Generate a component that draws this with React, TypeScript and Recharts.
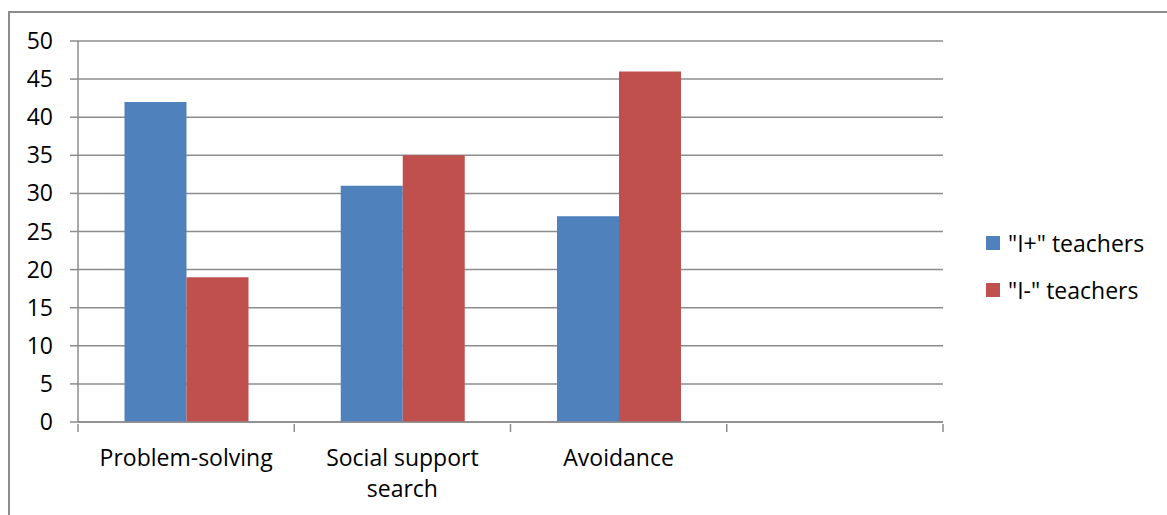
import { BarChart, Bar, XAxis, YAxis, CartesianGrid } from "recharts";

// Coping strategies by teacher group (percent)
const strategies = ["Problem-solving", "Social support\nsearch", "Avoidance", ""];
const iPlus = [42, 31, 27, null];
const iMinus = [19, 35, 46, null];
const yTicks = [0, 5, 10, 15, 20, 25, 30, 35, 40, 45, 50];

const SERIES = [
  { key: "iPlus", name: "\"I+\" teachers", color: "#4F81BD" },
  { key: "iMinus", name: "\"I-\" teachers", color: "#C0504D" },
];

const FONT = "'Open Sans', sans-serif";
const FONT_SIZE = 23;
const GRID = "#8c8c8c";

const W = 1167;
const H = 515;
const MARGIN = { top: 41, right: 224, left: 0, bottom: 33 };
const Y_AXIS_W = 78;
const PLOT_W = W - MARGIN.left - MARGIN.right - Y_AXIS_W;
const BAND = PLOT_W / strategies.length;

const data = strategies.map((s, i) => ({ name: s, iPlus: iPlus[i], iMinus: iMinus[i] }));

// category label plus tick marks on the band edges (Excel style)
function CategoryTick(props: any) {
  const { x, y, payload, index } = props;
  const top = y - 8;
  const last = index === strategies.length - 1;
  const lines = String(payload.value).split("\n");
  return (
    <g>
      <line x1={x - BAND / 2} x2={x - BAND / 2} y1={top} y2={top + 8} stroke={GRID} strokeWidth={1.5} />
      {last && <line x1={x + BAND / 2} x2={x + BAND / 2} y1={top} y2={top + 8} stroke={GRID} strokeWidth={1.5} />}
      <text x={x} y={top + 42} textAnchor="middle" fontFamily={FONT} fontSize={FONT_SIZE} fill="#000">
        {lines.map((l, i) => (
          <tspan key={i} x={x} dy={i === 0 ? 0 : 31}>
            {l}
          </tspan>
        ))}
      </text>
    </g>
  );
}

function ValueTick(props: any) {
  const { x, y, payload } = props;
  return (
    <text x={x} y={y} dy="0.35em" textAnchor="end" fontFamily={FONT} fontSize={FONT_SIZE} fill="#000">
      {payload.value}
    </text>
  );
}

export default function App() {
  return (
    <div style={{ position: "fixed", left: 0, top: 0, width: W, height: H, background: "#fff" }}>
      <div
        style={{
          position: "absolute",
          left: 8,
          top: 11,
          width: W - 8,
          height: H - 11,
          borderLeft: `2px solid ${GRID}`,
          borderTop: `2px solid ${GRID}`,
          boxSizing: "border-box",
        }}
      />
      <div style={{ position: "absolute", left: 0, top: 0 }}>
        <BarChart width={W} height={H} data={data} margin={MARGIN} barCategoryGap="21.5%" barGap={0}>
          <CartesianGrid vertical={false} stroke={GRID} strokeWidth={1.5} />
          <XAxis
            dataKey="name"
            height={60}
            stroke={GRID}
            strokeWidth={1.5}
            tickLine={false}
            tickSize={8}
            tick={<CategoryTick />}
            interval={0}
          />
          <YAxis
            width={Y_AXIS_W}
            domain={[0, 50]}
            ticks={yTicks}
            interval={0}
            stroke={GRID}
            strokeWidth={1.5}
            tickSize={8}
            tickMargin={17}
            tick={<ValueTick />}
          />
          {SERIES.map((s) => (
            <Bar key={s.key} dataKey={s.key} name={s.name} fill={s.color} isAnimationActive={false} />
          ))}
        </BarChart>
      </div>
      <div style={{ position: "absolute", left: 986, top: 228, fontFamily: FONT, fontSize: FONT_SIZE }}>
        {SERIES.map((s) => (
          <div key={s.key} style={{ display: "flex", alignItems: "center", height: 30, marginBottom: 17 }}>
            <span style={{ width: 14, height: 14, background: s.color, marginRight: 8 }} />
            <span>{s.name}</span>
          </div>
        ))}
      </div>
    </div>
  );
}
